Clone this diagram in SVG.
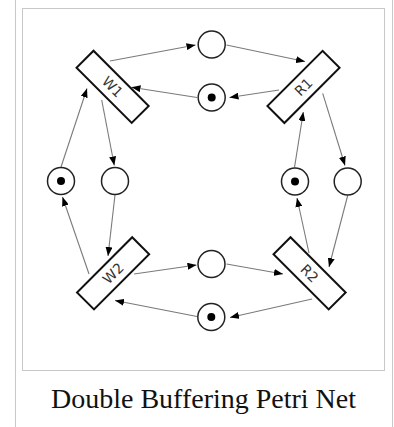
<svg xmlns="http://www.w3.org/2000/svg" width="394" height="427" viewBox="0 0 394 427">
  <style>
    .frame { fill: none; stroke: #c8c8c8; stroke-width: 1; }
    .place { fill: #ffffff; stroke: #222222; stroke-width: 1.5; }
    .token { fill: #000000; }
    .trans rect { fill: #ffffff; stroke: #111111; stroke-width: 2; }
    .trans text { font-family: "DejaVu Sans", sans-serif; font-size: 14px; fill: #333333; text-anchor: middle; dominant-baseline: central; }
    .arc { fill: none; stroke: #7a7a7a; stroke-width: 1.1; marker-end: url(#head); }
    .caption { font-family: "Liberation Serif", serif; font-size: 28px; fill: #111111; text-anchor: middle; }
  </style>
  <defs>
    <marker id="head" markerWidth="9" markerHeight="7" refX="9" refY="3.5" orient="auto" markerUnits="userSpaceOnUse">
      <path d="M0,0 L9,3.5 L0,7 z" fill="#000000"/>
    </marker>
  </defs>

  <rect width="394" height="427" fill="#ffffff"/>
  <!-- thumbnail frames -->
  <rect class="frame" x="15.5" y="-10" width="377" height="460"/>
  <rect class="frame" x="22.5" y="8.5" width="362" height="362"/>

  <!-- arcs -->
  <g id="arcs">
    <path class="arc" d="M110,61 L195.5,45"/>
    <path class="arc" d="M226.5,45 L305,61.5"/>
    <path class="arc" d="M279,90 L229.5,97.5"/>
    <path class="arc" d="M197,97.5 L131.5,87.3"/>
    <path class="arc" d="M61,167 L87,88.5"/>
    <path class="arc" d="M101.7,100 L114.3,165.5"/>
    <path class="arc" d="M322.7,93.3 L345,165.5"/>
    <path class="arc" d="M294.5,167.5 L303.3,112"/>
    <path class="arc" d="M89,274 L62.5,197"/>
    <path class="arc" d="M115,195 L108,256"/>
    <path class="arc" d="M134,274 L196.5,265"/>
    <path class="arc" d="M226.5,264 L283,274"/>
    <path class="arc" d="M309,253 L297,198"/>
    <path class="arc" d="M347.7,195.5 L329,267"/>
    <path class="arc" d="M312,299 L230,317.5"/>
    <path class="arc" d="M197,316.5 L115,300.5"/>
  </g>

  <!-- places -->
  <g id="p-buf1-empty"><circle class="place" cx="211.7" cy="44.5" r="13.5"/></g>
  <g id="p-buf1-free"><circle class="place" cx="211.7" cy="97.5" r="13.5"/><circle class="token" cx="211.7" cy="97.5" r="4"/></g>
  <g id="p-w-ready"><circle class="place" cx="61" cy="181" r="13.5"/><circle class="token" cx="61" cy="181" r="4"/></g>
  <g id="p-w-next"><circle class="place" cx="115" cy="181" r="13.5"/></g>
  <g id="p-r-ready"><circle class="place" cx="295" cy="181.5" r="13.5"/><circle class="token" cx="295" cy="181.5" r="4"/></g>
  <g id="p-r-next"><circle class="place" cx="347.7" cy="181.5" r="13.5"/></g>
  <g id="p-buf2-empty"><circle class="place" cx="211.5" cy="264" r="13.5"/></g>
  <g id="p-buf2-free"><circle class="place" cx="211.3" cy="317" r="13.5"/><circle class="token" cx="211.3" cy="317" r="4"/></g>

  <!-- transitions -->
  <g id="W1" class="trans" transform="translate(112.6,86.8) rotate(45)">
    <rect x="-39" y="-12" width="78" height="24"/><text x="0" y="0">W1</text>
  </g>
  <g id="R1" class="trans" transform="translate(303.5,86.9) rotate(-45)">
    <rect x="-39" y="-12" width="78" height="24"/><text x="0" y="0">R1</text>
  </g>
  <g id="W2" class="trans" transform="translate(113.1,273.3) rotate(-45)">
    <rect x="-39" y="-12" width="78" height="24"/><text x="0" y="0">W2</text>
  </g>
  <g id="R2" class="trans" transform="translate(309.6,273.3) rotate(45)">
    <rect x="-39" y="-12" width="78" height="24"/><text x="0" y="0">R2</text>
  </g>

  <text class="caption" x="203.5" y="408">Double Buffering Petri Net</text>
</svg>
